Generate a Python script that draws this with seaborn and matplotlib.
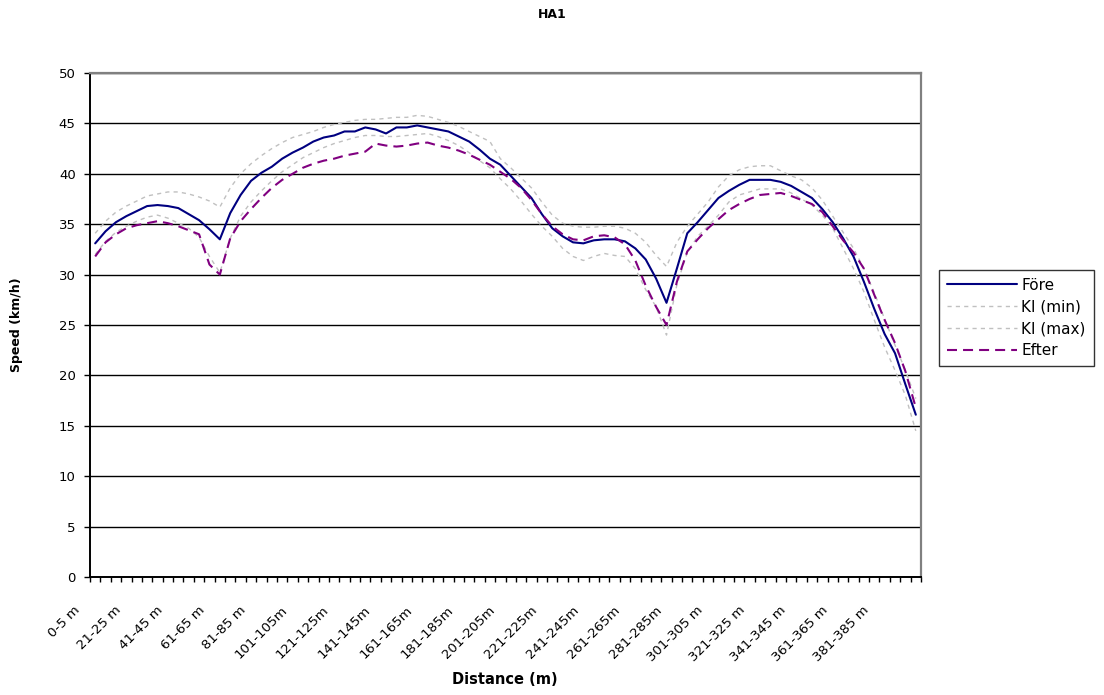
import numpy as np
import pandas as pd
import matplotlib
matplotlib.use("Agg")
import matplotlib.pyplot as plt
import matplotlib.transforms as mtransforms
import seaborn as sns

# 5 m distance bins along the run
distance_bins = [
    "0-5 m", "6-10 m", "11-15 m", "16-20 m", "21-25 m", "26-30 m", "31-35 m", "36-40 m",
    "41-45 m", "46-50 m", "51-55 m", "56-60 m", "61-65 m", "66-70 m", "71-75 m", "76-80 m",
    "81-85 m", "86-90 m", "91-95 m", "96-100 m", "101-105m", "106-110m", "111-115m", "116-120m",
    "121-125m", "126-130m", "131-135m", "136-140m", "141-145m", "146-150m", "151-155m", "156-160m",
    "161-165m", "166-170m", "171-175m", "176-180m", "181-185m", "186-190m", "191-195m", "196-200m",
    "201-205m", "206-210m", "211-215m", "216-220m", "221-225m", "226-230m", "231-235m", "236-240m",
    "241-245m", "246-250m", "251-255m", "256-260m", "261-265m", "266-270m", "271-275m", "276-280m",
    "281-285m", "286-290m", "291-295m", "296-300m", "301-305 m", "306-310 m", "311-315 m", "316-320 m",
    "321-325 m", "326-330 m", "331-335 m", "336-340 m", "341-345 m", "346-350 m", "351-355 m", "356-360 m",
    "361-365 m", "366-370 m", "371-375 m", "376-380 m", "381-385 m", "386-390 m", "391-395 m", "396-400 m",
]

# Speed (km/h) per bin
fore = [
    33.1, 34.3, 35.2, 35.8, 36.3, 36.8, 36.9, 36.8, 36.6, 36.0,
    35.4, 34.5, 33.5, 36.1, 37.9, 39.3, 40.1, 40.7, 41.5, 42.1,
    42.6, 43.2, 43.6, 43.8, 44.2, 44.2, 44.6, 44.4, 44.0, 44.6,
    44.6, 44.8, 44.6, 44.4, 44.2, 43.7, 43.2, 42.4, 41.5, 40.9,
    39.8, 38.7, 37.6, 36.0, 34.6, 33.8, 33.2, 33.1, 33.4, 33.5,
    33.5, 33.3, 32.6, 31.5, 29.6, 27.2, 30.6, 34.1, 35.2, 36.4,
    37.6, 38.3, 38.9, 39.4, 39.4, 39.4, 39.2, 38.8, 38.2, 37.6,
    36.5, 35.2, 33.6, 31.8, 29.3, 26.6, 24.1, 22.2, 19.1, 16.1,
]
ki_min = [
    32.0, 33.3, 34.2, 34.8, 35.3, 35.7, 35.9, 35.6, 35.1, 34.6,
    33.7, 31.8, 30.2, 33.6, 35.8, 37.2, 38.3, 39.3, 40.2, 40.9,
    41.6, 42.1, 42.6, 43.0, 43.3, 43.6, 43.8, 43.8, 43.7, 43.7,
    43.8, 43.9, 44.0, 43.7, 43.3, 42.8, 42.1, 41.3, 40.6, 39.5,
    38.5, 37.3, 36.0, 34.8, 33.8, 32.6, 31.8, 31.4, 31.8, 32.1,
    31.9, 31.8, 30.6, 28.5, 26.8, 24.0, 29.0, 32.2, 33.8, 34.8,
    35.9, 37.2, 37.9, 38.2, 38.5, 38.5, 38.5, 38.1, 37.5, 36.9,
    35.9, 34.6, 32.6, 30.6, 28.3, 25.5, 22.8, 20.5, 18.0, 14.5,
]
ki_max = [
    34.1, 35.3, 36.2, 36.8, 37.3, 37.8, 38.0, 38.2, 38.2, 38.0,
    37.7, 37.3, 36.7, 38.6, 40.0, 41.0, 41.8, 42.5, 43.1, 43.6,
    43.9, 44.2, 44.6, 44.9, 45.1, 45.3, 45.4, 45.4, 45.5, 45.6,
    45.6, 45.8, 45.7, 45.4, 45.1, 44.7, 44.2, 43.7, 43.2, 41.5,
    40.6, 39.6, 38.6, 37.2, 35.9, 35.1, 34.8, 34.7, 34.7, 34.8,
    34.8, 34.6, 34.1, 33.2, 31.9, 30.8, 33.2, 34.8, 36.0, 37.2,
    38.7, 39.8, 40.4, 40.7, 40.8, 40.8, 40.3, 39.8, 39.4, 38.6,
    37.4, 35.8, 34.2, 32.6, 30.6, 28.2, 25.6, 23.0, 20.5, 17.7,
]
efter = [
    31.8, 33.2, 34.0, 34.6, 34.9, 35.1, 35.3, 35.1, 34.8, 34.4,
    34.0, 31.0, 30.0, 33.6, 35.3, 36.5, 37.6, 38.6, 39.4, 40.0,
    40.6, 41.0, 41.3, 41.5, 41.8, 42.0, 42.2, 43.0, 42.8, 42.7,
    42.8, 43.0, 43.1, 42.8, 42.6, 42.3, 41.9, 41.4, 40.9, 40.2,
    39.5, 38.6, 37.4, 36.0, 34.8, 34.0, 33.5, 33.4, 33.8, 33.9,
    33.7, 33.0, 31.4, 28.9, 26.8, 25.0, 29.3, 32.3, 33.5, 34.6,
    35.5, 36.4, 37.0, 37.5, 37.9, 38.0, 38.1, 37.8, 37.4, 37.0,
    36.2, 34.8, 33.4, 32.2, 30.6, 28.0, 25.5, 23.2, 20.4, 16.8,
]

series_names = ["Före", "KI (min)", "KI (max)", "Efter"]
y_ticks = [0, 5, 10, 15, 20, 25, 30, 35, 40, 45, 50]
label_step = 4

sns.set_theme(style="white")
plt.rcParams["font.family"] = ["DejaVu Sans"]
plt.rcParams["text.color"] = "black"
plt.rcParams["axes.labelcolor"] = "black"
plt.rcParams["xtick.color"] = "black"
plt.rcParams["ytick.color"] = "black"
plt.rcParams["legend.labelcolor"] = "black"

df = pd.DataFrame({
    "pos": np.arange(len(distance_bins)),
    "Före": fore,
    "KI (min)": ki_min,
    "KI (max)": ki_max,
    "Efter": efter,
})
long_df = df.melt(id_vars="pos", var_name="serie", value_name="speed")

line_styles = {
    "Före": dict(color="#000080", linewidth=1.5, linestyle="-"),
    "KI (min)": dict(color="#c0c0c0", linewidth=1.0, linestyle=(0, (3, 3))),
    "KI (max)": dict(color="#c0c0c0", linewidth=1.0, linestyle=(0, (3, 3))),
    "Efter": dict(color="#800080", linewidth=1.5, linestyle=(0, (4.8, 2.9))),
}

W, H = 1104, 695
fig = plt.figure(figsize=(W / 100, H / 100), dpi=100)
ax = fig.add_axes([90 / W, 1 - 577 / H, (921 - 90) / W, (577 - 73) / H])

for name in series_names:
    sub = long_df[long_df["serie"] == name]
    sns.lineplot(data=sub, x="pos", y="speed", ax=ax, label=name,
                 estimator=None, **line_styles[name])

# axes ranges and grid
ax.set_xlim(-0.5, len(distance_bins) - 0.5)
ax.set_ylim(0, 50)
ax.set_yticks(y_ticks)
ax.yaxis.grid(True, color="black", linewidth=1.0)
ax.xaxis.grid(False)
ax.set_axisbelow(True)

for side in ("left", "bottom"):
    ax.spines[side].set_color("black")
    ax.spines[side].set_linewidth(1.4)
for side in ("top", "right"):
    ax.spines[side].set_color("#808080")
    ax.spines[side].set_linewidth(1.6)

# category boundary ticks, labels on every fourth category
ax.set_xticks(np.arange(-0.5, len(distance_bins), 1.0))
ax.set_xticklabels([])
label_pos = np.arange(0, len(distance_bins), label_step)
ax.set_xticks(label_pos, minor=True)
ax.set_xticklabels(distance_bins[::label_step], minor=True)
ax.tick_params(axis="x", which="major", direction="out", length=3.8, width=1.0,
               color="black", bottom=True)
ax.tick_params(axis="x", which="minor", length=0, pad=19, labelsize=9.5,
               labelcolor="black", bottom=True)
ax.tick_params(axis="y", direction="out", length=4.3, width=1.0, color="black",
               left=True, pad=6, labelsize=9.5, labelcolor="black")

shift = mtransforms.ScaledTranslation(-0.22, 0, fig.dpi_scale_trans)
for lbl in ax.get_xticklabels(minor=True):
    lbl.set_rotation(45)
    lbl.set_ha("right")
    lbl.set_va("top")
    lbl.set_rotation_mode("anchor")
    lbl.set_transform(lbl.get_transform() + shift)

ax.set_xlabel("")
ax.set_ylabel("")

fig.text(0.5, 1 - 15 / H, "HA1", ha="center", va="center",
         fontsize=9, fontweight="bold", color="black")
fig.text(505 / W, 1 - 679 / H, "Distance (m)", ha="center", va="center",
         fontsize=10.5, fontweight="bold", color="black")
fig.text(17 / W, 1 - 325 / H, "Speed (km/h)", ha="center", va="center",
         rotation=90, fontsize=9, fontweight="bold", color="black")

leg = ax.legend(loc="upper left", bbox_to_anchor=(939 / W, 1 - 270 / H),
                bbox_transform=fig.transFigure, frameon=True, fancybox=False,
                shadow=False, fontsize=11, handlelength=4.6,
                handletextpad=0.3, labelspacing=0.45, borderpad=0.5,
                borderaxespad=0)
leg.get_frame().set_edgecolor("black")
leg.get_frame().set_linewidth(1.0)
leg.get_frame().set_facecolor("white")
for txt in leg.get_texts():
    txt.set_color("black")

fig.savefig("out.png", dpi=100, facecolor="white")
